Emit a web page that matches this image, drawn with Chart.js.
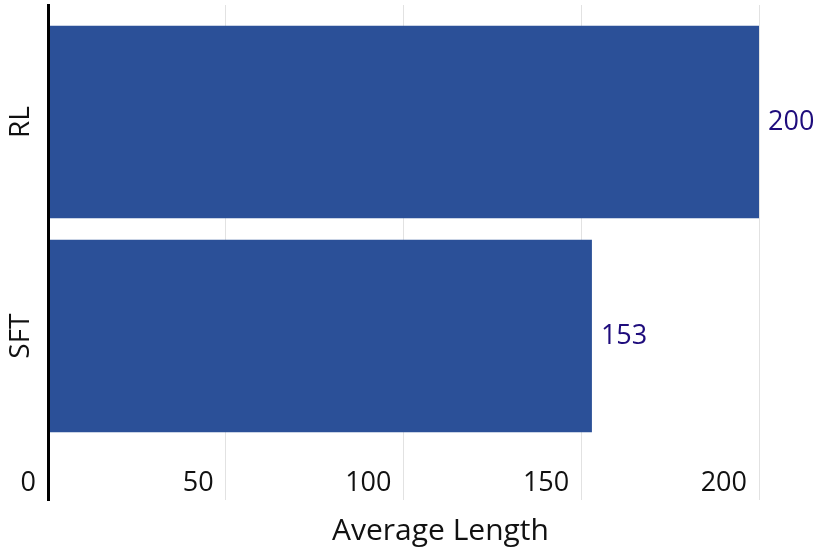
<!DOCTYPE html>
<html>
<head>
<meta charset="utf-8">
<script src="https://cdn.jsdelivr.net/npm/chart.js@4/dist/chart.umd.min.js"></script>
<style>
  html, body { margin: 0; padding: 0; background: #fff; }
  #wrap { width: 819px; height: 550px; position: relative; }
</style>
</head>
<body>
<div id="wrap"><canvas id="barChart"></canvas></div>
<script>
// categories (top to bottom) and their average lengths
const categories = ['RL', 'SFT'];
const avgLength = [200, 153];
const xTicks = [0, 50, 100, 150, 200];
const xTitle = 'Average Length';

const FONT = "'Open Sans', 'Noto Sans', sans-serif";
const barColor = '#2b5098';
const labelColor = '#1e0c7c';

// value labels at bar ends, rotated category names, axis title
const textPlugin = {
    id: 'textPlugin',
    afterDatasetsDraw(chart) {
        const ctx = chart.ctx;
        const area = chart.chartArea;
        const meta = chart.getDatasetMeta(0);
        const yScale = chart.scales.y;
        ctx.save();
        ctx.font = `27px ${FONT}`;
        ctx.fillStyle = labelColor;
        ctx.textAlign = 'left';
        ctx.textBaseline = 'middle';
        meta.data.forEach((bar, i) => {
            ctx.fillText(String(avgLength[i]), bar.x + 9, bar.y);
        });

        ctx.font = `28px ${FONT}`;
        ctx.fillStyle = '#111';
        ctx.textAlign = 'center';
        categories.forEach((c, i) => {
            ctx.save();
            ctx.translate(area.left - 27, yScale.getPixelForValue(i));
            ctx.rotate(-Math.PI / 2);
            ctx.fillText(c, 0, 0);
            ctx.restore();
        });

        ctx.font = `30px ${FONT}`;
        ctx.fillText(xTitle, area.left + (area.right - area.left) * 0.552, chart.height - 19);
        ctx.restore();
    }
};

const ctx = document.getElementById('barChart').getContext('2d');
new Chart(ctx, {
    type: 'bar',
    data: {
        datasets: [{
            data: avgLength.map((v, i) => ({ x: v, y: i })),
            backgroundColor: barColor,
            borderWidth: 0,
            categoryPercentage: 1,
            barPercentage: 0.9
        }]
    },
    options: {
        indexAxis: 'y',
        responsive: true,
        maintainAspectRatio: false,
        animation: false,
        layout: { padding: { top: 5, right: 60, left: 40, bottom: 50 } },
        plugins: { legend: { display: false }, tooltip: { enabled: false } },
        scales: {
            x: {
                type: 'linear',
                position: 'bottom',
                min: xTicks[0],
                max: xTicks[xTicks.length - 1],
                afterBuildTicks: (s) => { s.ticks = xTicks.map(v => ({ value: v })); },
                grid: { color: '#e2e2e2', lineWidth: 1, drawTicks: false },
                border: { display: false },
                ticks: {
                    mirror: true,
                    align: 'end',
                    labelOffset: -12,
                    padding: 0,
                    color: '#111',
                    font: { family: FONT, size: 27 }
                }
            },
            y: {
                type: 'linear',
                reverse: true,
                offset: false,
                min: -0.547,
                max: 1.766,
                afterBuildTicks: (s) => { s.ticks = categories.map((c, i) => ({ value: i })); },
                grid: { display: false, offset: false },
                border: { display: true, color: '#000', width: 3, z: 1 },
                ticks: { display: false }
            }
        }
    },
    plugins: [textPlugin]
});
</script>
</body>
</html>
